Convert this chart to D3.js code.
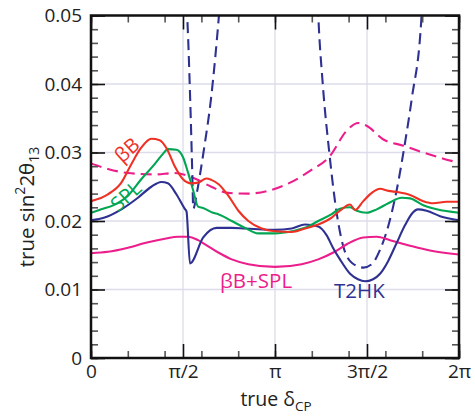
<!DOCTYPE html>
<html>
<head>
<meta charset="utf-8">
<script src="https://cdn.jsdelivr.net/npm/d3@7"></script>
<style>
  body { margin: 0; background: #fff; }
  text { font-family: "Open Sans", sans-serif; }
</style>
</head>
<body>
<svg id="chart" width="475" height="417"></svg>
<script>
// x values are true delta_CP in units of pi, y is true sin^2(2 theta13)
var xTickVals = [0, 0.5, 1, 1.5, 2];
var xTickLabels = ["0", "π/2", "π", "3π/2", "2π"];
var yTickVals = [0, 0.01, 0.02, 0.03, 0.04, 0.05];
var yTickLabels = ["0", "0.01", "0.02", "0.03", "0.04", "0.05"];

// beta beam (red)
var betaBeam = [
  [0, 0.0229], [0.092, 0.0239], [0.165, 0.0256], [0.219, 0.0283], [0.273, 0.0307],
  [0.328, 0.0320], [0.373, 0.0318], [0.409, 0.0307], [0.455, 0.0280], [0.5, 0.0261],
  [0.545, 0.0255], [0.582, 0.0256], [0.627, 0.0262], [0.654, 0.0260], [0.692, 0.0254],
  [0.746, 0.0237], [0.801, 0.0215], [0.855, 0.0200], [0.928, 0.0189], [1.0, 0.0185],
  [1.091, 0.0184], [1.163, 0.0189], [1.235, 0.0195], [1.308, 0.0205], [1.353, 0.0215],
  [1.408, 0.0224], [1.435, 0.0216], [1.480, 0.0229], [1.526, 0.0241], [1.571, 0.0247],
  [1.616, 0.0244], [1.670, 0.0242], [1.734, 0.0238], [1.806, 0.0229], [1.860, 0.0226],
  [1.933, 0.0228], [2.0, 0.0228]
];

// SPL (green)
var spl = [
  [0, 0.0212], [0.056, 0.0217], [0.129, 0.0224], [0.201, 0.0237], [0.273, 0.0261],
  [0.346, 0.0283], [0.391, 0.0298], [0.418, 0.0305], [0.464, 0.0304], [0.5, 0.0293],
  [0.527, 0.0271], [0.554, 0.0246], [0.582, 0.0221], [0.609, 0.0219], [0.663, 0.0212],
  [0.692, 0.0210], [0.765, 0.0200], [0.837, 0.0190], [0.909, 0.0182], [1.0, 0.0182],
  [1.091, 0.0185], [1.163, 0.0190], [1.235, 0.0200], [1.308, 0.0210], [1.353, 0.0218],
  [1.408, 0.0220], [1.444, 0.0215], [1.498, 0.0212], [1.553, 0.0217], [1.616, 0.0226],
  [1.689, 0.0234], [1.734, 0.0233], [1.806, 0.0223], [1.879, 0.0217], [2.0, 0.0212]
];

// T2HK (blue, solid)
var t2hk = [
  [0, 0.0201], [0.074, 0.0205], [0.165, 0.0217], [0.255, 0.0234], [0.328, 0.0250],
  [0.382, 0.0257], [0.418, 0.0255], [0.464, 0.0239], [0.509, 0.0218], [0.519, 0.0214],
  [0.538, 0.0138], [0.610, 0.0176], [0.683, 0.0190], [0.765, 0.0190], [0.837, 0.0189],
  [0.909, 0.0188], [1.0, 0.0187], [1.091, 0.0189], [1.163, 0.0195], [1.235, 0.0192],
  [1.281, 0.0179], [1.315, 0.0161], [1.353, 0.0144], [1.408, 0.0123], [1.451, 0.0115],
  [1.489, 0.0112], [1.533, 0.0115], [1.571, 0.0123], [1.614, 0.0141], [1.658, 0.0166],
  [1.707, 0.0194], [1.745, 0.0211], [1.777, 0.0217], [1.824, 0.0215], [1.897, 0.0207],
  [2.0, 0.0201]
];

// beta beam + SPL (magenta, solid)
var bbSpl = [
  [0, 0.0153], [0.092, 0.0155], [0.201, 0.0161], [0.310, 0.0169], [0.401, 0.0174],
  [0.473, 0.0177], [0.527, 0.0177], [0.582, 0.0172], [0.620, 0.0166], [0.692, 0.0154],
  [0.765, 0.0144], [0.855, 0.0137], [1.0, 0.0133], [1.145, 0.0137], [1.235, 0.0144],
  [1.317, 0.0154], [1.390, 0.0166], [1.480, 0.0176], [1.553, 0.0177], [1.625, 0.0172],
  [1.734, 0.0164], [1.842, 0.0157], [2.0, 0.0151]
];

// beta beam + SPL (magenta, dashed)
var bbSplDashed = [
  [0, 0.0284], [0.092, 0.0276], [0.201, 0.0270], [0.346, 0.0268], [0.455, 0.0270],
  [0.564, 0.0262], [0.654, 0.0250], [0.745, 0.0241], [0.853, 0.0240], [0.962, 0.0244],
  [1.082, 0.0256], [1.190, 0.0273], [1.299, 0.0295], [1.390, 0.0332], [1.453, 0.0343],
  [1.498, 0.0339], [1.589, 0.0319], [1.697, 0.0310], [1.806, 0.0300], [1.915, 0.0291],
  [2.0, 0.0285]
];

// T2HK (blue, dashed), two valleys
var t2hkDashedA = [
  [0.519, 0.0515], [0.522, 0.0502], [0.539, 0.0378], [0.550, 0.0275], [0.556, 0.0218],
  [0.576, 0.0242], [0.592, 0.0267], [0.614, 0.0305], [0.652, 0.0378], [0.696, 0.0502],
  [0.700, 0.0515]
];
var t2hkDashedB = [
  [1.233, 0.0515], [1.235, 0.0502], [1.259, 0.0402], [1.295, 0.0300], [1.335, 0.0212],
  [1.371, 0.0163], [1.417, 0.0139], [1.480, 0.0132], [1.526, 0.0137], [1.571, 0.0158],
  [1.616, 0.0193], [1.662, 0.0246], [1.707, 0.0315], [1.743, 0.0378], [1.797, 0.0502],
  [1.799, 0.0515]
];

var RED = "#ee3124", GREEN = "#00a651", BLUE = "#2e3192", MAGENTA = "#ec1e8c";

var box = {left: 91, right: 459, top: 15.5, bottom: 358};
var x = d3.scaleLinear().domain([0, 2]).range([box.left, box.right]);
var y = d3.scaleLinear().domain([0, 0.05]).range([box.bottom, box.top]);

var svg = d3.select("#chart");

svg.append("defs").append("clipPath").attr("id", "plot")
  .append("rect").attr("x", box.left).attr("y", box.top)
  .attr("width", box.right - box.left).attr("height", box.bottom - box.top);

// light grid at the major ticks
var grid = svg.append("g").attr("stroke", "#dcdcea").attr("stroke-width", 1.3);
grid.selectAll("line.v").data(xTickVals.slice(1, -1)).enter().append("line")
  .attr("x1", function(d) { return x(d); }).attr("x2", function(d) { return x(d); })
  .attr("y1", box.top).attr("y2", box.bottom);
grid.selectAll("line.h").data(yTickVals.slice(1, -1)).enter().append("line")
  .attr("y1", function(d) { return y(d); }).attr("y2", function(d) { return y(d); })
  .attr("x1", box.left).attr("x2", box.right);

// curves
var line = d3.line()
  .x(function(d) { return x(d[0]); })
  .y(function(d) { return y(d[1]); })
  .curve(d3.curveMonotoneX);
var plot = svg.append("g").attr("clip-path", "url(#plot)").attr("fill", "none");

function addCurve(data, color, dash) {
  plot.append("path").datum(data)
    .attr("d", line)
    .attr("stroke", color)
    .attr("stroke-width", 2.1)
    .attr("stroke-dasharray", dash || null);
}
addCurve(bbSplDashed, MAGENTA, "11,6");
addCurve(t2hkDashedA, BLUE, "11,6");
addCurve(t2hkDashedB, BLUE, "11,6");
addCurve(bbSpl, MAGENTA);
addCurve(t2hk, BLUE);
addCurve(spl, GREEN);
addCurve(betaBeam, RED);

// ticks on all sides, pointing inwards
var xMinor = d3.range(0, 2.001, 0.2);
var yMinor = d3.range(0, 0.0501, 0.002);

function styleAxis(g, color) {
  g.select(".domain").remove();
  g.selectAll(".tick line").attr("stroke", color).attr("stroke-width", 1.6);
  g.selectAll("text").attr("font-size", 19).attr("fill", "#222")
    .attr("font-family", "Open Sans, sans-serif");
}

svg.append("g").attr("transform", "translate(0," + box.bottom + ")")
  .call(d3.axisBottom(x).tickValues(xMinor).tickSize(-7).tickFormat(""))
  .call(styleAxis, "#555");
svg.append("g").attr("transform", "translate(0," + box.top + ")")
  .call(d3.axisTop(x).tickValues(xMinor).tickSize(-7).tickFormat(""))
  .call(styleAxis, "#555");
svg.append("g").attr("transform", "translate(" + box.left + ",0)")
  .call(d3.axisLeft(y).tickValues(yMinor).tickSize(-7).tickFormat(""))
  .call(styleAxis, "#555");
svg.append("g").attr("transform", "translate(" + box.right + ",0)")
  .call(d3.axisRight(y).tickValues(yMinor).tickSize(-7).tickFormat(""))
  .call(styleAxis, "#555");

svg.append("g").attr("transform", "translate(0," + box.bottom + ")")
  .call(d3.axisBottom(x).tickValues(xTickVals).tickSize(-14).tickPadding(7)
    .tickFormat(function(d, i) { return xTickLabels[i]; }))
  .call(styleAxis, "#111");
svg.append("g").attr("transform", "translate(0," + box.top + ")")
  .call(d3.axisTop(x).tickValues(xTickVals).tickSize(-14).tickFormat(""))
  .call(styleAxis, "#111");
svg.append("g").attr("transform", "translate(" + box.left + ",0)")
  .call(d3.axisLeft(y).tickValues(yTickVals).tickSize(-14).tickPadding(9)
    .tickFormat(function(d, i) { return yTickLabels[i]; }))
  .call(styleAxis, "#111");
svg.append("g").attr("transform", "translate(" + box.right + ",0)")
  .call(d3.axisRight(y).tickValues(yTickVals).tickSize(-14).tickFormat(""))
  .call(styleAxis, "#111");

// frame
svg.append("rect").attr("x", box.left).attr("y", box.top)
  .attr("width", box.right - box.left).attr("height", box.bottom - box.top)
  .attr("fill", "none").attr("stroke", "#111").attr("stroke-width", 2.5);

// axis titles
var yt = svg.append("text").attr("transform", "translate(34,207) rotate(-90)")
  .attr("text-anchor", "middle").attr("font-size", 20.5).attr("fill", "#222");
yt.append("tspan").text("true  sin");
yt.append("tspan").attr("dy", -9).attr("font-size", 14).text("2");
yt.append("tspan").attr("dy", 9).text("2θ");
yt.append("tspan").attr("dy", 5).attr("font-size", 14).text("13");

var xt = svg.append("text").attr("x", 276).attr("y", 406)
  .attr("text-anchor", "middle").attr("font-size", 19.5).attr("fill", "#222");
xt.append("tspan").text("true δ");
xt.append("tspan").attr("dy", 5).attr("font-size", 13.5).text("CP");

// curve labels
svg.append("text").attr("transform", "translate(127,150) rotate(-42)")
  .attr("text-anchor", "middle").attr("dy", "0.35em")
  .attr("font-size", 20).attr("fill", RED).text("βB");
svg.append("text").attr("transform", "translate(126,196) rotate(-42)")
  .attr("text-anchor", "middle").attr("dy", "0.35em")
  .attr("font-size", 20).attr("fill", GREEN).text("SPL");
svg.append("text").attr("x", 220).attr("y", 288)
  .attr("font-size", 20.5).attr("fill", MAGENTA).text("βB+SPL");
svg.append("text").attr("x", 334).attr("y", 298)
  .attr("font-size", 20.5).attr("fill", BLUE).text("T2HK");
</script>
</body>
</html>
